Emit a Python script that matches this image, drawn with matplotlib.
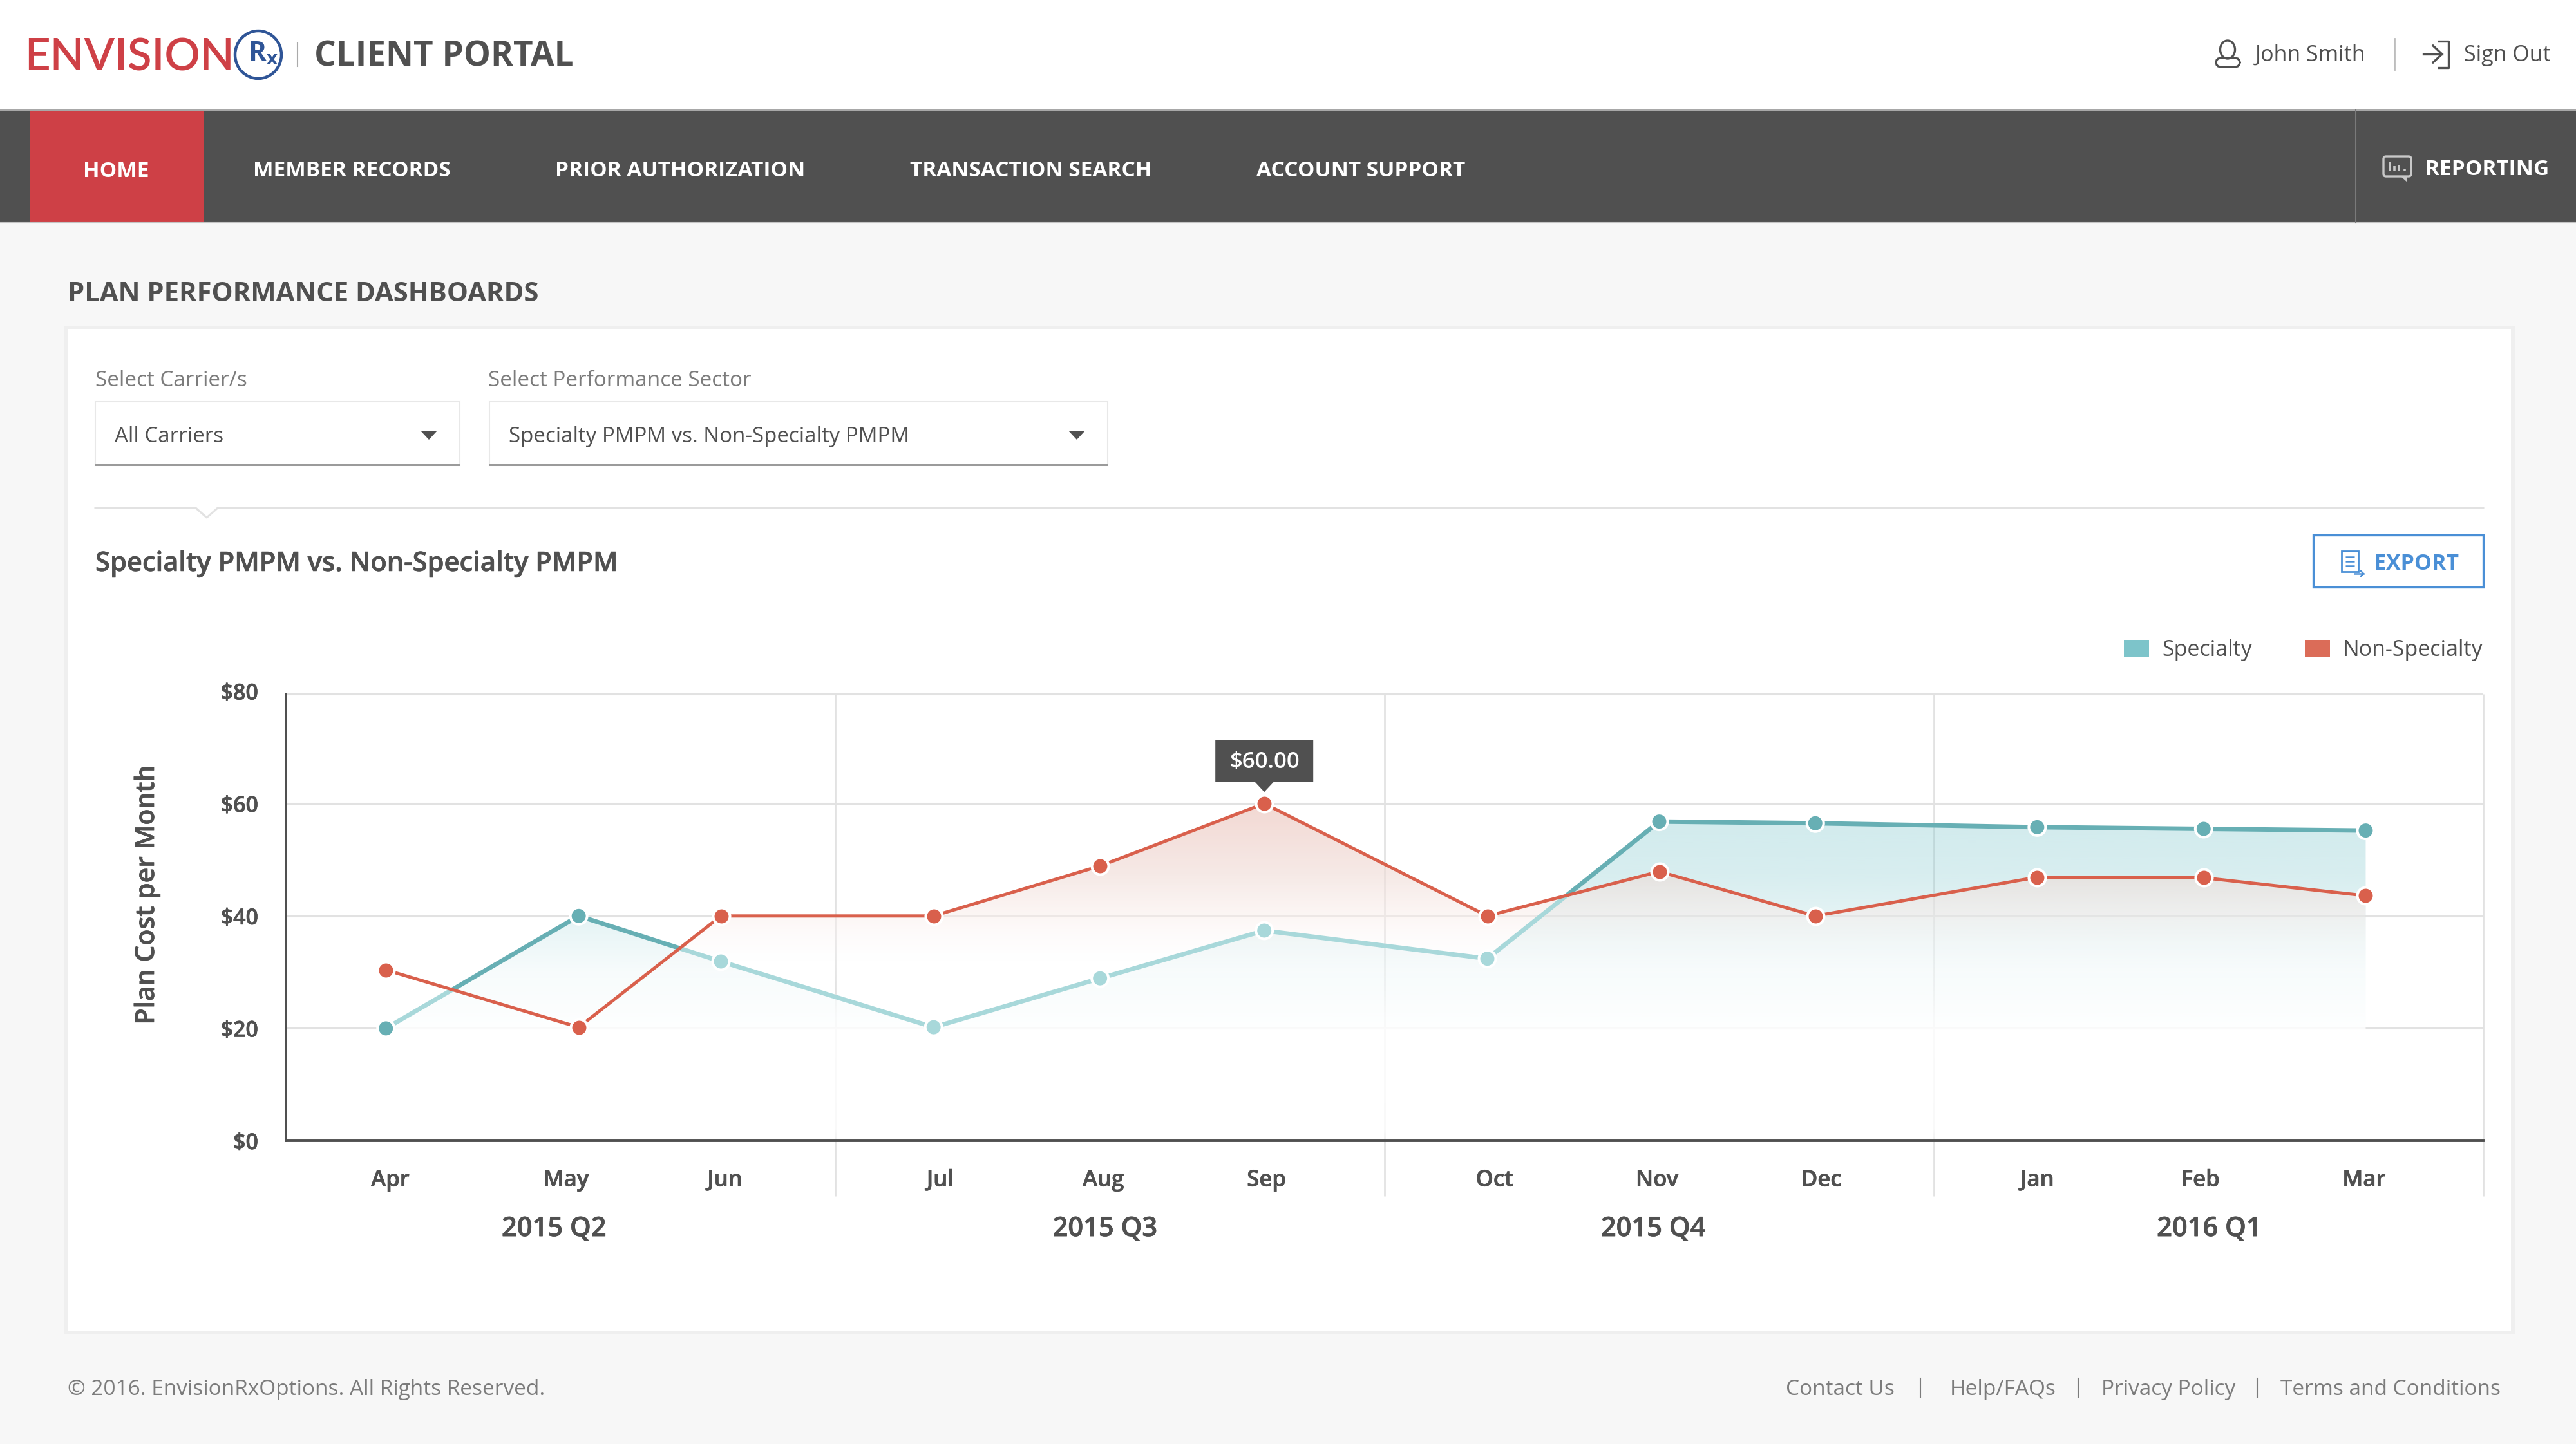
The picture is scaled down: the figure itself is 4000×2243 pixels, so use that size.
#!/usr/bin/env python3
"""
Plan performance dashboard - specialty vs non-specialty PMPM
"""
import numpy as np
import matplotlib
matplotlib.use("Agg")
import matplotlib.pyplot as plt
import matplotlib.patheffects as pe
from matplotlib.patches import Rectangle, Polygon, Ellipse, FancyBboxPatch
from matplotlib.transforms import Affine2D

plt.rcParams['font.family'] = ['Open Sans', 'DejaVu Sans']
plt.rcParams['mathtext.fontset'] = 'custom'
plt.rcParams['mathtext.bf'] = 'Open Sans:bold'

W, H = 4000, 2243

# months, x measured in quarters from the left edge of the plot
MONTHS   = ['Apr', 'May', 'Jun', 'Jul', 'Aug', 'Sep', 'Oct', 'Nov', 'Dec', 'Jan', 'Feb', 'Mar']
MONTH_X  = [0.182, 0.533, 0.792, 1.179, 1.482, 1.781, 2.187, 2.500, 2.784, 3.188, 3.491, 3.786]
LABEL_X  = [0.190, 0.510, 0.799, 1.191, 1.488, 1.785, 2.200, 2.496, 2.795, 3.188, 3.485, 3.783]
SPECIALTY     = [20.0, 40.0, 31.9, 20.2, 28.9, 37.4, 32.4, 56.8, 56.5, 55.8, 55.5, 55.2]
NON_SPECIALTY = [30.4, 20.2, 40.0, 40.0, 48.9, 60.0, 40.0, 47.9, 40.0, 46.9, 46.8, 43.6]
SPEC_DARK     = [1, 1, 0, 0, 0, 0, 0, 1, 1, 1, 1, 1]

QUARTERS   = ['2015 Q2', '2015 Q3', '2015 Q4', '2016 Q1']
QUARTER_X  = [0.488, 1.491, 2.489, 3.501]
Y_TICKS    = [0, 20, 40, 60, 80]
PLOT_TOP   = 79.5

NAV_ITEMS = ['MEMBER RECORDS', 'PRIOR AUTHORIZATION', 'TRANSACTION SEARCH', 'ACCOUNT SUPPORT']
NAV_LEFT  = [393, 862, 1413, 1951]
FOOT_LINKS = ['Contact Us', 'Help/FAQs', 'Privacy Policy', 'Terms and Conditions']
FOOT_LEFT  = [2773, 3028, 3263, 3541]
FOOT_BARS  = [2982, 3227, 3505]

DARK    = '#505050'
GREY    = '#7c7c7c'
LINE    = '#e2e2e2'
RED_NAV = '#ce4046'
BLUE    = '#4a8fd6'
TEAL    = '#67afb4'
TEAL_LT = '#a8d8da'
RED     = '#d9604c'

# no semibold cut to rely on, thicken the regular one a little
SEMI = [pe.withStroke(linewidth=0.5, foreground=DARK)]


def put(ax, x, y, s, px, color=DARK, weight='normal', ha='left', **kw):
    # y is the middle of the capitals, in picture pixels
    return ax.text(x, y + 0.357 * px, s, fontsize=px * 0.72, color=color,
                   fontweight=weight, ha=ha, va='baseline', **kw)


def rect(ax, x0, y0, x1, y1, **kw):
    kw.setdefault('linewidth', 0)
    ax.add_patch(Rectangle((x0, y0), x1 - x0, y1 - y0, **kw))


def draw_page(ui):
    ui.set_xlim(0, W)
    ui.set_ylim(H, 0)
    ui.axis('off')
    rect(ui, 0, 0, W, H, facecolor='#f7f7f7')
    rect(ui, 0, 0, W, 171, facecolor='white')

    # logo
    put(ui, 38, 85, 'ENVISION', 69, color=RED_NAV, family='Lato', weight=600)
    ui.add_patch(Ellipse((401, 85), 72, 74, fill=False, edgecolor='#2f5597', linewidth=3.2))
    put(ui, 385, 79, r'$\mathbf{R_x}$', 42, color='#2f5597')
    ui.plot([462, 462], [67, 103], color='#aaaaaa', linewidth=1.5)
    put(ui, 488, 84, 'CLIENT PORTAL', 53, weight='bold')

    # user block
    ui.add_patch(Ellipse((3459, 77), 23, 28, fill=False, edgecolor=DARK, linewidth=2.4))
    ui.add_patch(FancyBboxPatch((3441, 90), 37, 14, boxstyle='round,pad=0,rounding_size=8',
                                fill=False, edgecolor=DARK, linewidth=2.4))
    put(ui, 3502, 83, 'John Smith', 34)
    ui.plot([3718, 3718], [60, 108], color='#bdbdbd', linewidth=2)
    ui.plot([3763, 3792], [84, 84], color=DARK, linewidth=2.4)
    ui.plot([3778, 3792, 3778], [71, 84, 97], color=DARK, linewidth=2.4)
    ui.plot([3787, 3802, 3802, 3787], [64, 64, 105, 105], color=DARK, linewidth=2.4)
    put(ui, 3826, 83, 'Sign Out', 34)

    # nav bar
    rect(ui, 0, 171, W, 346, facecolor=DARK)
    ui.plot([0, W], [171, 171], color='#a8a8a8', linewidth=1.5)
    ui.plot([0, W], [346, 346], color='#c4c4c4', linewidth=1.5)
    rect(ui, 46, 171, 316, 346, facecolor=RED_NAV)
    put(ui, 180, 263, 'HOME', 33.4, color='white', weight='bold', ha='center')
    for name, left in zip(NAV_ITEMS, NAV_LEFT):
        put(ui, left, 262, name, 33.4, color='white', weight='bold')
    ui.plot([3658, 3658], [171, 346], color='#7a7a7a', linewidth=1.5)
    ui.add_patch(FancyBboxPatch((3701, 243), 43, 31, boxstyle='round,pad=0,rounding_size=4',
                                fill=False, edgecolor='#c8c8c8', linewidth=2.4))
    ui.add_patch(Polygon([[3728, 274], [3738, 274], [3738, 283]], facecolor='#c8c8c8'))
    ui.vlines([3711, 3718, 3725, 3734], [252, 258, 256, 262], [266, 266, 266, 266],
              color='#c8c8c8', linewidth=2.6)
    put(ui, 3766, 260, 'REPORTING', 33.4, color='white', weight='bold')

    put(ui, 105, 453, 'PLAN PERFORMANCE DASHBOARDS', 41.8, weight='bold')

    # card
    rect(ui, 100, 506, 3905, 2072, facecolor='#efefef')
    rect(ui, 106, 511, 3899, 2067, facecolor='white')

    # selects
    put(ui, 148, 588, 'Select Carrier/s', 33.3, color=GREY)
    put(ui, 758, 588, 'Select Performance Sector', 33.3, color=GREY)
    for x0, x1, label, arrow in [(148, 714, 'All Carriers', 666),
                                 (760, 1720, 'Specialty PMPM vs. Non-Specialty PMPM', 1672)]:
        rect(ui, x0, 624, x1, 723, facecolor='white', edgecolor='#e8e8e8', linewidth=1.5)
        rect(ui, x0, 720, x1, 724, facecolor='#9b9b9b')
        put(ui, x0 + 30, 675, label, 33)
        ui.add_patch(Polygon([[arrow - 13, 669], [arrow + 13, 669], [arrow, 683]], facecolor=DARK))

    # divider with notch
    ui.plot([148, 304, 321, 338, 3856], [789, 789, 804, 789, 789], color=LINE, linewidth=2.2)

    put(ui, 148, 872, 'Specialty PMPM vs. Non-Specialty PMPM', 41.7, weight=600, path_effects=SEMI)

    # export button
    rect(ui, 3592, 831, 3856, 912, facecolor='white', edgecolor=BLUE, linewidth=2.4)
    rect(ui, 3636, 856, 3662, 888, fill=False, edgecolor=BLUE, linewidth=2)
    ui.hlines([865, 872, 879], 3642, 3656, color=BLUE, linewidth=1.8)
    ui.plot([3656, 3670], [891, 891], color=BLUE, linewidth=1.8)
    ui.plot([3666, 3670, 3666], [887, 891, 895], color=BLUE, linewidth=1.8)
    put(ui, 3686, 873, 'EXPORT', 34, color=BLUE, weight='bold')

    # legend
    rect(ui, 3298, 994, 3337, 1020, facecolor='#7dc4ca')
    put(ui, 3357, 1007, 'Specialty', 34)
    rect(ui, 3579, 994, 3618, 1020, facecolor='#db6c58')
    put(ui, 3638, 1007, 'Non-Specialty', 34)

    # footer
    put(ui, 105, 2155, '\u00a9 2016. EnvisionRxOptions. All Rights Reserved.', 33.4, color=GREY)
    for name, left in zip(FOOT_LINKS, FOOT_LEFT):
        put(ui, left, 2155, name, 33.4, color=GREY)
    for x in FOOT_BARS:
        ui.plot([x, x], [2141, 2170], color=GREY, linewidth=1.5)


def gradient_area(ax, x, y, stops, zorder):
    # vertical gradient clipped to the area under a line; stops are (value, r, g, b, a)
    stops = np.array(stops, dtype=float)
    levels = np.linspace(80, 0, 400)
    img = np.zeros((400, 1, 4))
    order = np.argsort(stops[:, 0])
    for i in range(4):
        img[:, 0, i] = np.interp(levels, stops[order, 0], stops[order, i + 1])
    img[:, 0, :3] /= 255.0
    im = ax.imshow(img, extent=(0, 4, 0, 80), aspect='auto', zorder=zorder, interpolation='bilinear')
    poly = Polygon(list(zip(x, y)) + [(x[-1], 0), (x[0], 0)], closed=True,
                   transform=ax.transData, facecolor='none', edgecolor='none')
    ax.add_patch(poly)
    im.set_clip_path(poly)


def specialty_segments(x, s, n):
    # split the specialty line where it crosses the other one, dark while it is on top
    segs = []
    for i in range(len(x) - 1):
        d0, d1 = s[i] - n[i], s[i + 1] - n[i + 1]
        if d0 * d1 < 0:
            t = d0 / (d0 - d1)
            xc, yc = x[i] + t * (x[i + 1] - x[i]), s[i] + t * (s[i + 1] - s[i])
            segs.append(([x[i], xc], [s[i], yc], d0 > 0))
            segs.append(([xc, x[i + 1]], [yc, s[i + 1]], d1 > 0))
        else:
            segs.append(([x[i], x[i + 1]], [s[i], s[i + 1]], d0 > 0))
    return segs


def draw_chart(ax):
    ax.set_xlim(0, 4)
    ax.set_ylim(0, 80)
    ax.patch.set_visible(False)

    ax.hlines([20, 40, 60, PLOT_TOP], 0, 4, color=LINE, linewidth=2.2, zorder=1)
    ax.vlines([1, 2, 3, 4], -9.85, PLOT_TOP, color=LINE, linewidth=2.0, zorder=1, clip_on=False)

    # veil that washes out the grid under the area
    gradient_area(ax, MONTH_X, SPECIALTY,
                  [(80, 255, 255, 255, 0), (42, 255, 255, 255, 0), (22, 255, 255, 255, 0.85),
                   (2, 255, 255, 255, 0.8), (0, 255, 255, 255, 0.5)], 2)
    gradient_area(ax, MONTH_X, SPECIALTY,
                  [(80, 125, 198, 204, 0.38), (55, 125, 198, 204, 0.34), (47, 125, 198, 204, 0.30),
                   (38, 125, 198, 204, 0.18), (30, 125, 198, 204, 0.06), (20, 125, 198, 204, 0.01),
                   (19.9, 125, 198, 204, 0), (0, 125, 198, 204, 0)], 3)
    gradient_area(ax, MONTH_X, NON_SPECIALTY,
                  [(80, 232, 185, 175, 0.65), (60, 236, 195, 186, 0.65), (47, 240, 220, 215, 0.6),
                   (40, 250, 238, 235, 0.5), (32, 255, 255, 255, 0.2), (26, 255, 255, 255, 0),
                   (0, 255, 255, 255, 0)], 4)

    for xs, ys, dark in specialty_segments(MONTH_X, SPECIALTY, NON_SPECIALTY):
        ax.plot(xs, ys, color=TEAL if dark else TEAL_LT, linewidth=5, zorder=5,
                solid_capstyle='butt')
    ax.plot(MONTH_X, NON_SPECIALTY, color=RED, linewidth=3.6, zorder=6)

    spec_colors = [TEAL if d else TEAL_LT for d in SPEC_DARK]
    ax.scatter(MONTH_X, SPECIALTY, s=18.7 ** 2, c=spec_colors, edgecolors='white',
               linewidths=2.9, zorder=7, clip_on=False)
    ax.scatter(MONTH_X, NON_SPECIALTY, s=18.7 ** 2, c=RED, edgecolors='white',
               linewidths=2.9, zorder=8, clip_on=False)

    ax.spines['top'].set_visible(False)
    ax.spines['right'].set_visible(False)
    ax.spines['left'].set_bounds(0, PLOT_TOP)
    ax.spines['left'].set_color(DARK)
    ax.spines['bottom'].set_color(DARK)
    ax.spines['left'].set_linewidth(2.8)
    ax.spines['bottom'].set_linewidth(2.8)
    for sp in ax.spines.values():
        sp.set_zorder(9)

    ax.set_yticks(Y_TICKS, [f'${v}' for v in Y_TICKS], fontsize=24.5, color=DARK, fontweight=600)
    ax.set_xticks(LABEL_X, MONTHS, fontsize=25, color=DARK, fontweight=600)
    ax.tick_params(axis='y', length=0, pad=31)
    ax.tick_params(axis='x', length=0, pad=32)
    for lab in ax.get_xticklabels() + ax.get_yticklabels():
        lab.set_path_effects(SEMI)

    ax.text(-216 / 853, (1772 - 1390) / 8.73, 'Plan Cost per Month', fontsize=29.5, color=DARK,
            fontweight=600, rotation=90, ha='center', va='center', clip_on=False, path_effects=SEMI)
    for name, qx in zip(QUARTERS, QUARTER_X):
        ax.text(qx, -15.7, name, fontsize=30, color=DARK, fontweight=600,
                ha='center', va='center', clip_on=False, path_effects=SEMI)

    # tooltip on the Sep peak, sized in picture pixels around the point
    peak = NON_SPECIALTY.index(max(NON_SPECIALTY))
    px, py = MONTH_X[peak], NON_SPECIALTY[peak]
    at = Affine2D().translate(*ax.transData.transform((px, py)))
    ax.add_patch(Polygon([[-76, 34], [-15, 34], [0, 18], [15, 34], [76, 34], [76, 99], [-76, 99]],
                         closed=True, facecolor=DARK, edgecolor='none', transform=at,
                         clip_on=False, zorder=10))
    ax.annotate(f'${py:.2f}', xy=(px, py), xytext=(0, 64 * 0.72), textcoords='offset points',
                ha='center', va='center', fontsize=25, color='white', fontweight=600,
                zorder=11, annotation_clip=False)


def main():
    fig = plt.figure(figsize=(W / 100, H / 100), dpi=100, facecolor='white')
    ui = fig.add_axes([0, 0, 1, 1], zorder=1)
    draw_page(ui)
    ax = fig.add_axes([444 / W, (H - 1772) / H, 3412 / W, 698.4 / H], zorder=2)
    draw_chart(ax)
    fig.savefig('out.png', dpi=100)
    plt.close(fig)


if __name__ == "__main__":
    main()
